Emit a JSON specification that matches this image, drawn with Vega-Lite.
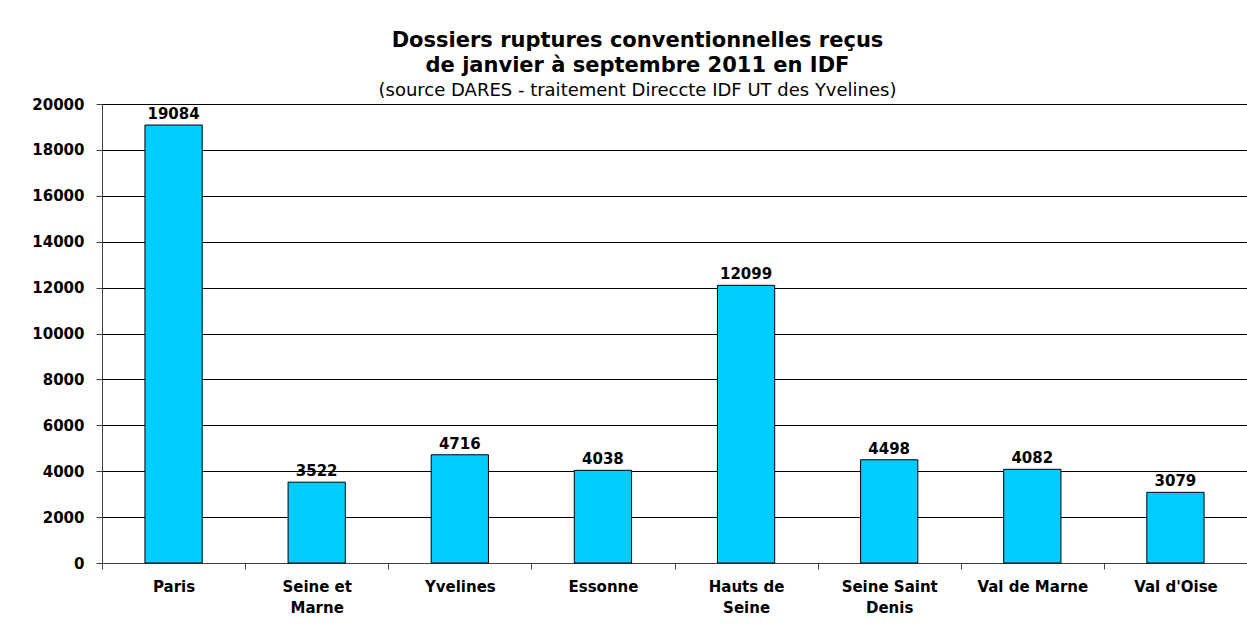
{
  "$schema": "https://vega.github.io/schema/vega-lite/v6.json",
  "autosize": "none",
  "padding": {"left": 102, "top": 104, "right": 0, "bottom": 68},
  "width": 1145,
  "height": 459,
  "background": "white",
  "title": {
    "text": ["Dossiers ruptures conventionnelles reçus", "de janvier à septembre 2011 en IDF"],
    "subtitle": "(source DARES - traitement Direccte IDF UT des Yvelines)",
    "anchor": "middle",
    "frame": "group",
    "dx": -37,
    "offset": -3,
    "font": "DejaVu Sans",
    "fontSize": 21,
    "fontWeight": "bold",
    "lineHeight": 25,
    "color": "black",
    "subtitleFont": "DejaVu Sans",
    "subtitleFontSize": 18,
    "subtitleColor": "black",
    "subtitlePadding": 6
  },
  "data": {
    "values": [
      {"dept": "Paris", "n": 19084},
      {"dept": "Seine et Marne", "n": 3522},
      {"dept": "Yvelines", "n": 4716},
      {"dept": "Essonne", "n": 4038},
      {"dept": "Hauts de Seine", "n": 12099},
      {"dept": "Seine Saint Denis", "n": 4498},
      {"dept": "Val de Marne", "n": 4082},
      {"dept": "Val d'Oise", "n": 3079}
    ]
  },
  "encoding": {
    "x": {
      "field": "dept",
      "type": "nominal",
      "sort": null,
      "scale": {"paddingInner": 0.6, "paddingOuter": 0.3},
      "axis": {
        "title": null,
        "labelAngle": 0,
        "labelExpr": "datum.label == 'Seine et Marne' ? ['Seine et', 'Marne'] : datum.label == 'Hauts de Seine' ? ['Hauts de', 'Seine'] : datum.label == 'Seine Saint Denis' ? ['Seine Saint', 'Denis'] : datum.label",
        "labelFont": "DejaVu Sans",
        "labelFontSize": 15,
        "labelFontWeight": "bold",
        "labelColor": "black",
        "labelLineHeight": 21,
        "labelPadding": 10,
        "labelBaseline": "top",
        "tickOffset": -71.56,
        "labelOffset": 71.56,
        "tickSize": 6,
        "tickColor": "#404040",
        "domainColor": "#404040",
        "grid": false
      }
    },
    "y": {
      "field": "n",
      "type": "quantitative",
      "scale": {"domain": [0, 20000], "nice": false},
      "axis": {
        "title": null,
        "values": [0, 2000, 4000, 6000, 8000, 10000, 12000, 14000, 16000, 18000, 20000],
        "format": "d",
        "labelFont": "DejaVu Sans",
        "labelFontSize": 15,
        "labelFontWeight": "bold",
        "labelColor": "black",
        "labelPadding": 12,
        "tickSize": 6,
        "tickColor": "#404040",
        "domainColor": "#404040",
        "grid": true,
        "gridColor": "black",
        "gridOpacity": 1,
        "gridWidth": 1
      }
    }
  },
  "layer": [
    {
      "mark": {"type": "bar", "color": "#00CCFF", "stroke": "black", "strokeWidth": 1}
    },
    {
      "mark": {"type": "text", "baseline": "bottom", "dy": -3, "font": "DejaVu Sans", "fontSize": 15, "fontWeight": "bold", "color": "black"},
      "encoding": {"text": {"field": "n", "type": "quantitative", "format": "d"}}
    }
  ],
  "config": {
    "view": {"stroke": "#808080", "strokeWidth": 1}
  }
}
